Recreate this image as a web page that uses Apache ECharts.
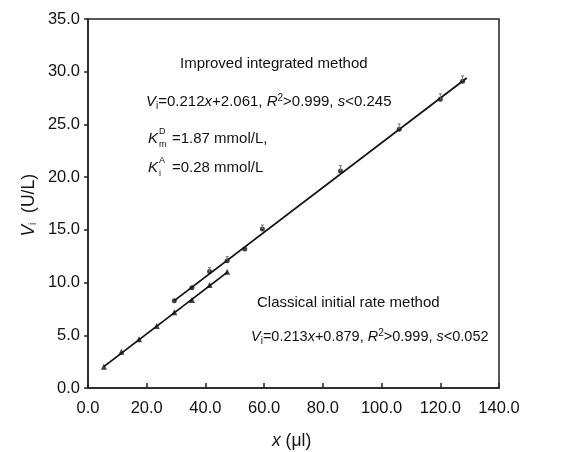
<!DOCTYPE html>
<html><head><meta charset="utf-8">
<script src="https://cdn.jsdelivr.net/npm/echarts@6/dist/echarts.min.js"></script>
<style>html,body{margin:0;padding:0;background:#fff}#c{width:571px;height:452px}</style>
</head><body><div id="c"></div>
<script>
// Data
const improvedX   = [29.4, 35.4, 41.4, 47.4, 53.4, 59.4, 86.0, 106.0, 120.0, 127.6];
const improvedY   = [8.28, 9.52, 11.04, 12.08, 13.19, 15.08, 20.59, 24.55, 27.40, 29.10];
const improvedErr = [0, 0, 0.2, 0.1, 0, 0.3, 0.5, 0.5, 0.5, 0.5];
const classicalX  = [5.4, 11.4, 17.4, 23.4, 29.4, 35.4, 41.4, 47.4];
const classicalY  = [2.02, 3.44, 4.62, 5.88, 7.18, 8.35, 9.77, 11.03];
const improvedFitX  = [29.4, 129.0];
const improvedFitY  = [8.29, 29.40];
const classicalFitX = [5.4, 47.4];
const classicalFitY = [2.03, 10.97];
const xTickValues = [0, 20, 40, 60, 80, 100, 120, 140];
const yTickValues = [0, 5, 10, 15, 20, 25, 30, 35];

const FONT = "'Liberation Sans', Arial, sans-serif";
const zip = (a, b) => a.map((v, i) => [v, b[i]]);

const chart = echarts.init(document.getElementById('c'), null, {renderer: 'canvas'});

const FS = 15;
const mkRich = (fs) => ({
  it: {fontStyle: 'italic', fontSize: fs, fontFamily: FONT, fill: '#111'},
  sub: {fontSize: 10, fontFamily: FONT, fill: '#111', padding: [8, 0, 0, 0]},
  sup: {fontSize: 10, fontFamily: FONT, fill: '#111', padding: [0, 0, 8, 0]},
  n: {fontSize: fs, fontFamily: FONT, fill: '#111'}
});
const txt = (x, y, fs, text) => ({
  type: 'text', left: x, top: y,
  style: {text: text, font: fs + 'px ' + FONT, fill: '#111', rich: mkRich(fs)}
});

const kBlock = (left, top, sup, sub, rest) => ({type: 'group', left: left, top: top, children: [
  {type: 'text', x: 0, y: 2, style: {text: 'K', font: 'italic ' + FS + 'px ' + FONT, fill: '#111'}},
  {type: 'text', x: 11, y: -2, style: {text: sup, font: '9px ' + FONT, fill: '#111'}},
  {type: 'text', x: 11, y: 11, style: {text: sub, font: '9px ' + FONT, fill: '#111'}},
  {type: 'text', x: 24, y: 2, style: {text: rest, font: FS + 'px ' + FONT, fill: '#111'}}
]});

chart.setOption({
  animation: false,
  backgroundColor: '#fff',
  grid: {left: 88, right: 72, top: 19, bottom: 64, show: true, borderColor: '#222', borderWidth: 1.5, backgroundColor: 'transparent'},
  xAxis: {
    type: 'value', min: 0, max: 140, interval: 20,
    axisLine: {show: true, lineStyle: {color: '#222', width: 1.5}},
    axisTick: {show: true, inside: true, length: 5, lineStyle: {color: '#222', width: 1.5}},
    splitLine: {show: false},
    axisLabel: {color: '#111', fontSize: 16.5, fontFamily: FONT, margin: 12,
      formatter: v => xTickValues.includes(v) ? v.toFixed(1) : ''}
  },
  yAxis: {
    type: 'value', min: 0, max: 35, interval: 5,
    axisLine: {show: true, lineStyle: {color: '#222', width: 1.5}},
    axisTick: {show: true, inside: false, length: 4, lineStyle: {color: '#222', width: 1.5}},
    splitLine: {show: false},
    axisLabel: {color: '#111', fontSize: 16.5, fontFamily: FONT, margin: 8,
      formatter: v => yTickValues.includes(v) ? v.toFixed(1) : ''}
  },
  series: [
    {type: 'line', data: zip(improvedFitX, improvedFitY), symbol: 'none', lineStyle: {color: '#111', width: 1.8}, z: 2},
    {type: 'line', data: zip(classicalFitX, classicalFitY), symbol: 'none', lineStyle: {color: '#111', width: 1.8}, z: 2},
    {type: 'scatter', data: zip(improvedX, improvedY), symbol: 'circle', symbolSize: 5, itemStyle: {color: '#111'}, z: 3},
    {type: 'scatter', data: zip(classicalX, classicalY), symbol: 'triangle', symbolSize: 6, itemStyle: {color: '#111'}, z: 3},
    {type: 'custom', z: 4,
      data: improvedX.map((x, i) => [x, improvedY[i], improvedErr[i]]),
      renderItem: (params, api) => {
        const e = api.value(2);
        if (!e) return null;
        const p0 = api.coord([api.value(0), api.value(1)]);
        const p1 = api.coord([api.value(0), api.value(1) + e]);
        const top = Math.min(p1[1], p0[1] - 4);
        return {type: 'group', children: [
          {type: 'line', shape: {x1: p0[0], y1: p0[1], x2: p0[0], y2: top}, style: {stroke: '#777', lineWidth: 1}},
          {type: 'line', shape: {x1: p0[0] - 1.5, y1: top, x2: p0[0] + 1.5, y2: top}, style: {stroke: '#777', lineWidth: 1}}
        ]};
      }
    }
  ],
  graphic: [
    txt(180, 56, FS, 'Improved integrated method'),
    txt(146, 93, FS, '{it|V}{sub|i}{n|=0.212}{it|x}{n|+2.061, }{it|R}{sup|2}{n|>0.999, }{it|s}{n|<0.245}'),
    kBlock(148, 127, 'D', 'm', '=1.87 mmol/L,'),
    kBlock(148, 156, 'A', 'i', '=0.28 mmol/L'),
    txt(257, 295, FS, 'Classical initial rate method'),
    txt(251, 328, 14.5, '{it|V}{sub|i}{n|=0.213}{it|x}{n|+0.879, }{it|R}{sup|2}{n|>0.999, }{it|s}{n|<0.052}'),
    {type: 'text', left: 20, top: 174, rotation: Math.PI / 2,
      style: {text: '{it|V}{sub|i}{n|  (U/L)}', rich: {
        it: {fontStyle: 'italic', fontSize: 17.5, fontFamily: FONT, fill: '#111'},
        sub: {fontSize: 10.5, fontFamily: FONT, fill: '#111', padding: [9, 0, 0, 0]},
        n: {fontSize: 17.5, fontFamily: FONT, fill: '#111'}}}},
    {type: 'text', left: 272, top: 432,
      style: {text: '{it|x}{n| (μl)}', rich: {
        it: {fontStyle: 'italic', fontSize: 17.5, fontFamily: FONT, fill: '#111'},
        n: {fontSize: 17.5, fontFamily: FONT, fill: '#111'}}}}
  ]
});
</script></body></html>
